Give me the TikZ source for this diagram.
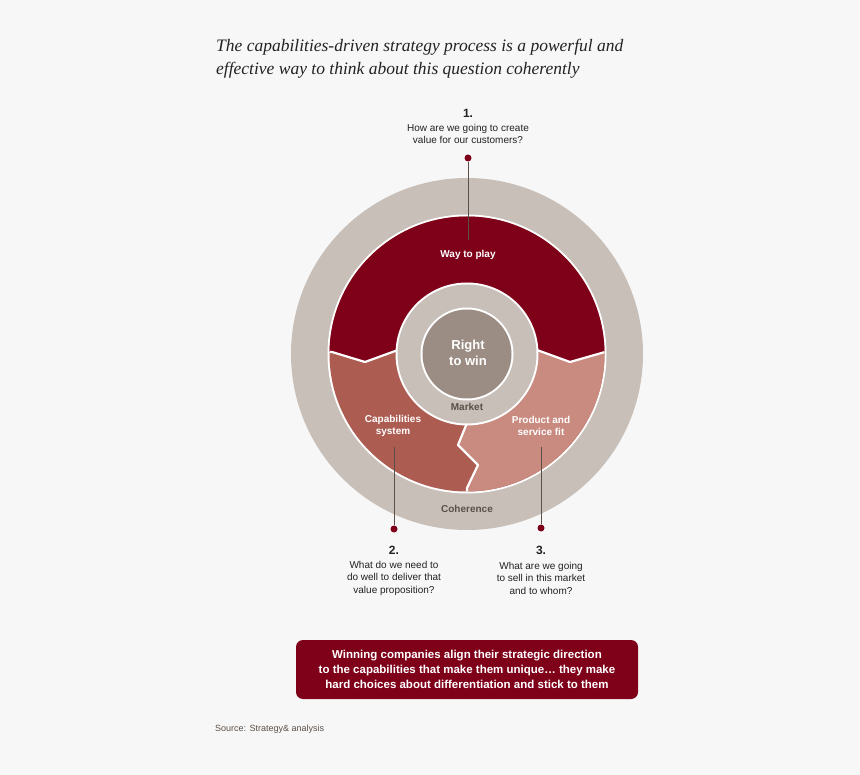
\documentclass[tikz,border=0pt]{standalone}
\usepackage{fontspec}
\setmainfont{Liberation Sans}
\newfontfamily\titlefont{Liberation Serif}
\definecolor{bg}{HTML}{F7F7F7}
\definecolor{wine}{HTML}{7F0019}
\definecolor{capc}{HTML}{AD5C52}
\definecolor{prodc}{HTML}{C98A80}
\definecolor{ringc}{HTML}{C8BFB8}
\definecolor{corec}{HTML}{9B8D84}
\definecolor{txtg}{HTML}{222222}
\definecolor{mkt}{HTML}{5A5048}
\begin{document}
\begin{tikzpicture}[x=1pt,y=-1pt,
  lbl/.style={font=\fontsize{10}{12.5}\selectfont,text=txtg,align=center,inner sep=0},
  num/.style={font=\fontsize{12}{14}\selectfont\bfseries,text=txtg,inner sep=0},
  seg/.style={font=\fontsize{10}{12.5}\selectfont\bfseries,text=white,align=center,inner sep=0},
  leader/.style={draw=mkt,line width=0.8},
  dotc/.style={circle,fill=wine,inner sep=0,minimum size=7},
  border/.style={draw=white,line width=2.2,line join=round}]
\useasboundingbox[fill=bg] (0,0) rectangle (860,775);
\node[anchor=west,inner sep=0,font=\titlefont\itshape\fontsize{17.5}{23}\selectfont,text=txtg,align=left] (title) at (216,59) {The capabilities-driven strategy process is a powerful and\\effective way to think about this question coherently};
% rings
\fill[ringc] (467,354) circle (176);
\fill[white] (467,354) circle (139.5);
\begin{scope}
\clip (467,354) circle (137.5);
\fill[capc] (467,354) circle (140);
\fill[prodc] (467,423)--(458,445)--(478,465)--(467,488)--(467,520)--(640,520)--(640,352)--(605,352)--(570,362)--(537,350)--(467,350)--cycle;
\fill[wine] (300,352)--(332,352)--(365,362)--(398,350)--(537,350)--(570,362)--(605,352)--(640,352)--(640,200)--(300,200)--cycle;
\draw[border] (300,352)--(332,352)--(365,362)--(398,350);
\draw[border] (537,350)--(570,362)--(605,352)--(640,352);
\draw[border] (467,423)--(458,445)--(478,465)--(467,488)--(467,520);
\end{scope}
\fill[white] (467,354) circle (71.5);
\fill[ringc] (467,354) circle (69.5);
\fill[white] (467,354) circle (46.5);
\fill[corec] (467,354) circle (44.5);
% labels in diagram
\node[seg] (way) at (468,255) {Way to play};
\node[seg,font=\fontsize{13}{16}\selectfont\bfseries] (win) at (468,353) {Right\\to win};
\node[seg,text=mkt] (market) at (467,407) {Market};
\node[seg] (caps) at (393,426) {Capabilities\\system};
\node[seg] (prod) at (541,426) {Product and\\service fit};
\node[seg,text=mkt] (coh) at (467,509) {Coherence};
% leaders
\node[dotc] (d1) at (468,158) {};
\coordinate (e1) at (468,240);
\draw[leader] (d1) -- (e1);
\node[dotc] (d2) at (394,529) {};
\coordinate (e2) at (394,447);
\draw[leader] (d2) -- (e2);
\node[dotc] (d3) at (541,528) {};
\coordinate (e3) at (541,447);
\draw[leader] (d3) -- (e3);
% questions
\node[num] (n1) at (468,113) {1.};
\node[lbl] (q1) at (468,134) {How are we going to create\\value for our customers?};
\node[num] (n2) at (394,550) {2.};
\node[lbl] (q2) at (394,578) {What do we need to\\do well to deliver that\\value proposition?};
\node[num] (n3) at (541,550) {3.};
\node[lbl] (q3) at (541,578) {What are we going\\to sell in this market\\and to whom?};
% box
\node[fill=wine,rounded corners=7,minimum width=342,minimum height=59,align=center,text=white,font=\fontsize{11.5}{15}\selectfont\bfseries,inner sep=0] (box) at (467,669.5) {Winning companies align their strategic direction\\to the capabilities that make them unique\dots\ they make\\hard choices about differentiation and stick to them};
\node[anchor=west,inner sep=0,font=\fontsize{9}{11}\selectfont,text=mkt] (src) at (215,729) {Source: Strategy\& analysis};
\end{tikzpicture}
\end{document}
